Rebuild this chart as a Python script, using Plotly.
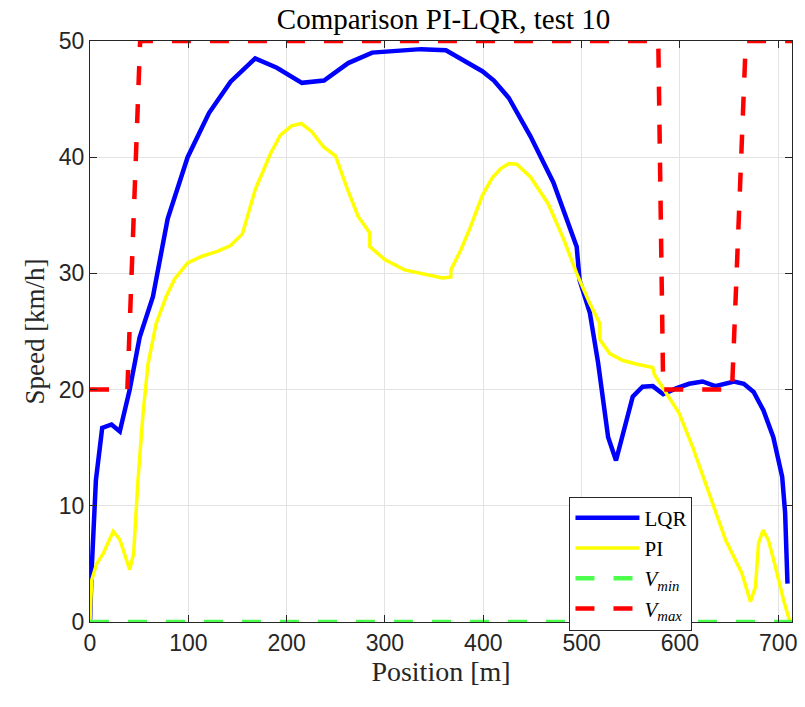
import plotly.graph_objects as go

# LQR speed profile
lqr_x = [0, 1.7, 6, 12.4, 21.9, 30.3, 40.4, 50.5, 64, 79, 99.3, 121, 143, 168, 190, 215.5,
         238, 262.6, 287, 336.7, 362, 399, 410.8, 426, 448, 471.4, 495, 498, 508.4, 516.8,
         527, 535, 552, 562, 572.4, 583, 596, 609.4, 623, 636, 655, 665, 675, 685, 695,
         704, 707, 709.4]
lqr_y = [0, 4.5, 12.2, 16.7, 17.0, 16.4, 20.0, 24.5, 28.0, 34.7, 40.0, 43.8, 46.5, 48.5, 47.7, 46.4,
         46.6, 48.1, 49.0, 49.3, 49.2, 47.4, 46.6, 45.1, 41.8, 37.8, 32.3, 29.4, 26.6, 22.3,
         15.9, 13.9, 19.4, 20.25, 20.3, 19.6, 20.1, 20.5, 20.7, 20.3, 20.7, 20.5, 19.8, 18.2, 15.9,
         12.5, 9.4, 3.3]

# PI speed profile
pi_x = [0, 1.7, 6.7, 13.5, 23.6, 30.3, 40.4, 44.4, 48.8, 53.9, 59, 67.3, 77.4, 85.9, 99.3,
        114.5, 129.6, 143, 155, 168, 183.5, 193.6, 205, 215, 225.6, 237.4, 249.8, 262, 272.7,
        284.5, 284.6, 299.7, 319.9, 340, 358.6, 367, 367.1, 377, 387, 399, 409, 417.5, 426,
        434, 448, 466, 481.5, 495, 508.4, 518.5, 518.6, 528.6, 542, 555.6, 572.4, 574, 589,
        599, 612.8, 629.6, 646.5, 663, 671.7, 676.8, 680, 684.5, 690, 697, 705.4, 712]
pi_y = [0, 3.6, 5.0, 5.9, 7.8, 7.1, 4.5, 5.9, 12.2, 17.9, 22.2, 25.7, 28.0, 29.5, 30.9,
        31.5, 31.9, 32.4, 33.4, 37.2, 40.3, 41.9, 42.7, 42.9, 42.2, 40.9, 40.1, 37.2, 34.9,
        33.5, 32.3, 31.2, 30.3, 29.9, 29.6, 29.7, 30.3, 32.0, 34.0, 36.7, 38.2, 39.0, 39.45,
        39.4, 38.3, 36.0, 33.0, 30.0, 27.4, 25.7, 24.3, 23.1, 22.5, 22.2, 21.9, 21.3, 19.4,
        18.0, 15.1, 11.1, 7.05, 4.2, 1.75, 3.0, 6.8, 7.9, 7.05, 4.8, 1.9, 0]

# Speed limits
vmin_x = [0, 714]
vmin_y = [0, 0]
vmax_x = [0, 38, 51, 578, 583, 653, 667, 714]
vmax_y = [20, 20, 50, 50, 20, 20, 50, 50]

x_ticks = [0, 100, 200, 300, 400, 500, 600, 700]
y_ticks = [0, 10, 20, 30, 40, 50]

serif = "Liberation Serif, serif"
dash = "19px,19px"
fig = go.Figure()
fig.add_trace(go.Scatter(x=lqr_x, y=lqr_y, mode="lines", name="LQR",
                         line=dict(color="#0000ff", width=4.5)))
fig.add_trace(go.Scatter(x=pi_x, y=pi_y, mode="lines", name="PI",
                         line=dict(color="#ffff00", width=3.5)))
fig.add_trace(go.Scatter(x=vmin_x, y=vmin_y, mode="lines",
                         name="<i>V</i><sub><i>min</i></sub>",
                         line=dict(color="#4dff4d", width=4.5, dash=dash)))
fig.add_trace(go.Scatter(x=vmax_x, y=vmax_y, mode="lines",
                         name="<i>V</i><sub><i>max</i></sub>",
                         line=dict(color="#ff0000", width=4.5, dash=dash)))

axis_common = dict(showline=True, linecolor="#262626", linewidth=1, mirror="allticks",
                   ticks="inside", ticklen=7, tickcolor="#262626",
                   showgrid=True, gridcolor="#e3e3e3", gridwidth=1, zeroline=False,
                   tickfont=dict(family="Liberation Sans, Arial, sans-serif", size=23, color="#262626"))

fig.update_layout(
    width=805, height=707,
    margin=dict(l=90, r=8, t=41, b=85),
    paper_bgcolor="white", plot_bgcolor="white",
    title=dict(text="Comparison PI-LQR, test 10", x=0.551, xanchor="center", y=0.988, yanchor="top",
               font=dict(family=serif, size=29, color="black")),
    xaxis=dict(range=[0, 714], tickvals=x_ticks,
               title=dict(text="Position [m]", standoff=2,
                          font=dict(family=serif, size=28, color="#262626")),
               **axis_common),
    yaxis=dict(range=[0, 50], tickvals=y_ticks,
               title=dict(text="Speed [km/h]", standoff=6,
                          font=dict(family=serif, size=27, color="#262626")),
               **axis_common),
    legend=dict(x=0.683, y=0.216, xanchor="left", yanchor="top",
                bgcolor="white", bordercolor="#262626", borderwidth=1,
                font=dict(family=serif, size=21, color="black"),
                itemwidth=64, tracegroupgap=0),
    showlegend=True,
)

fig.write_html("out.html")
